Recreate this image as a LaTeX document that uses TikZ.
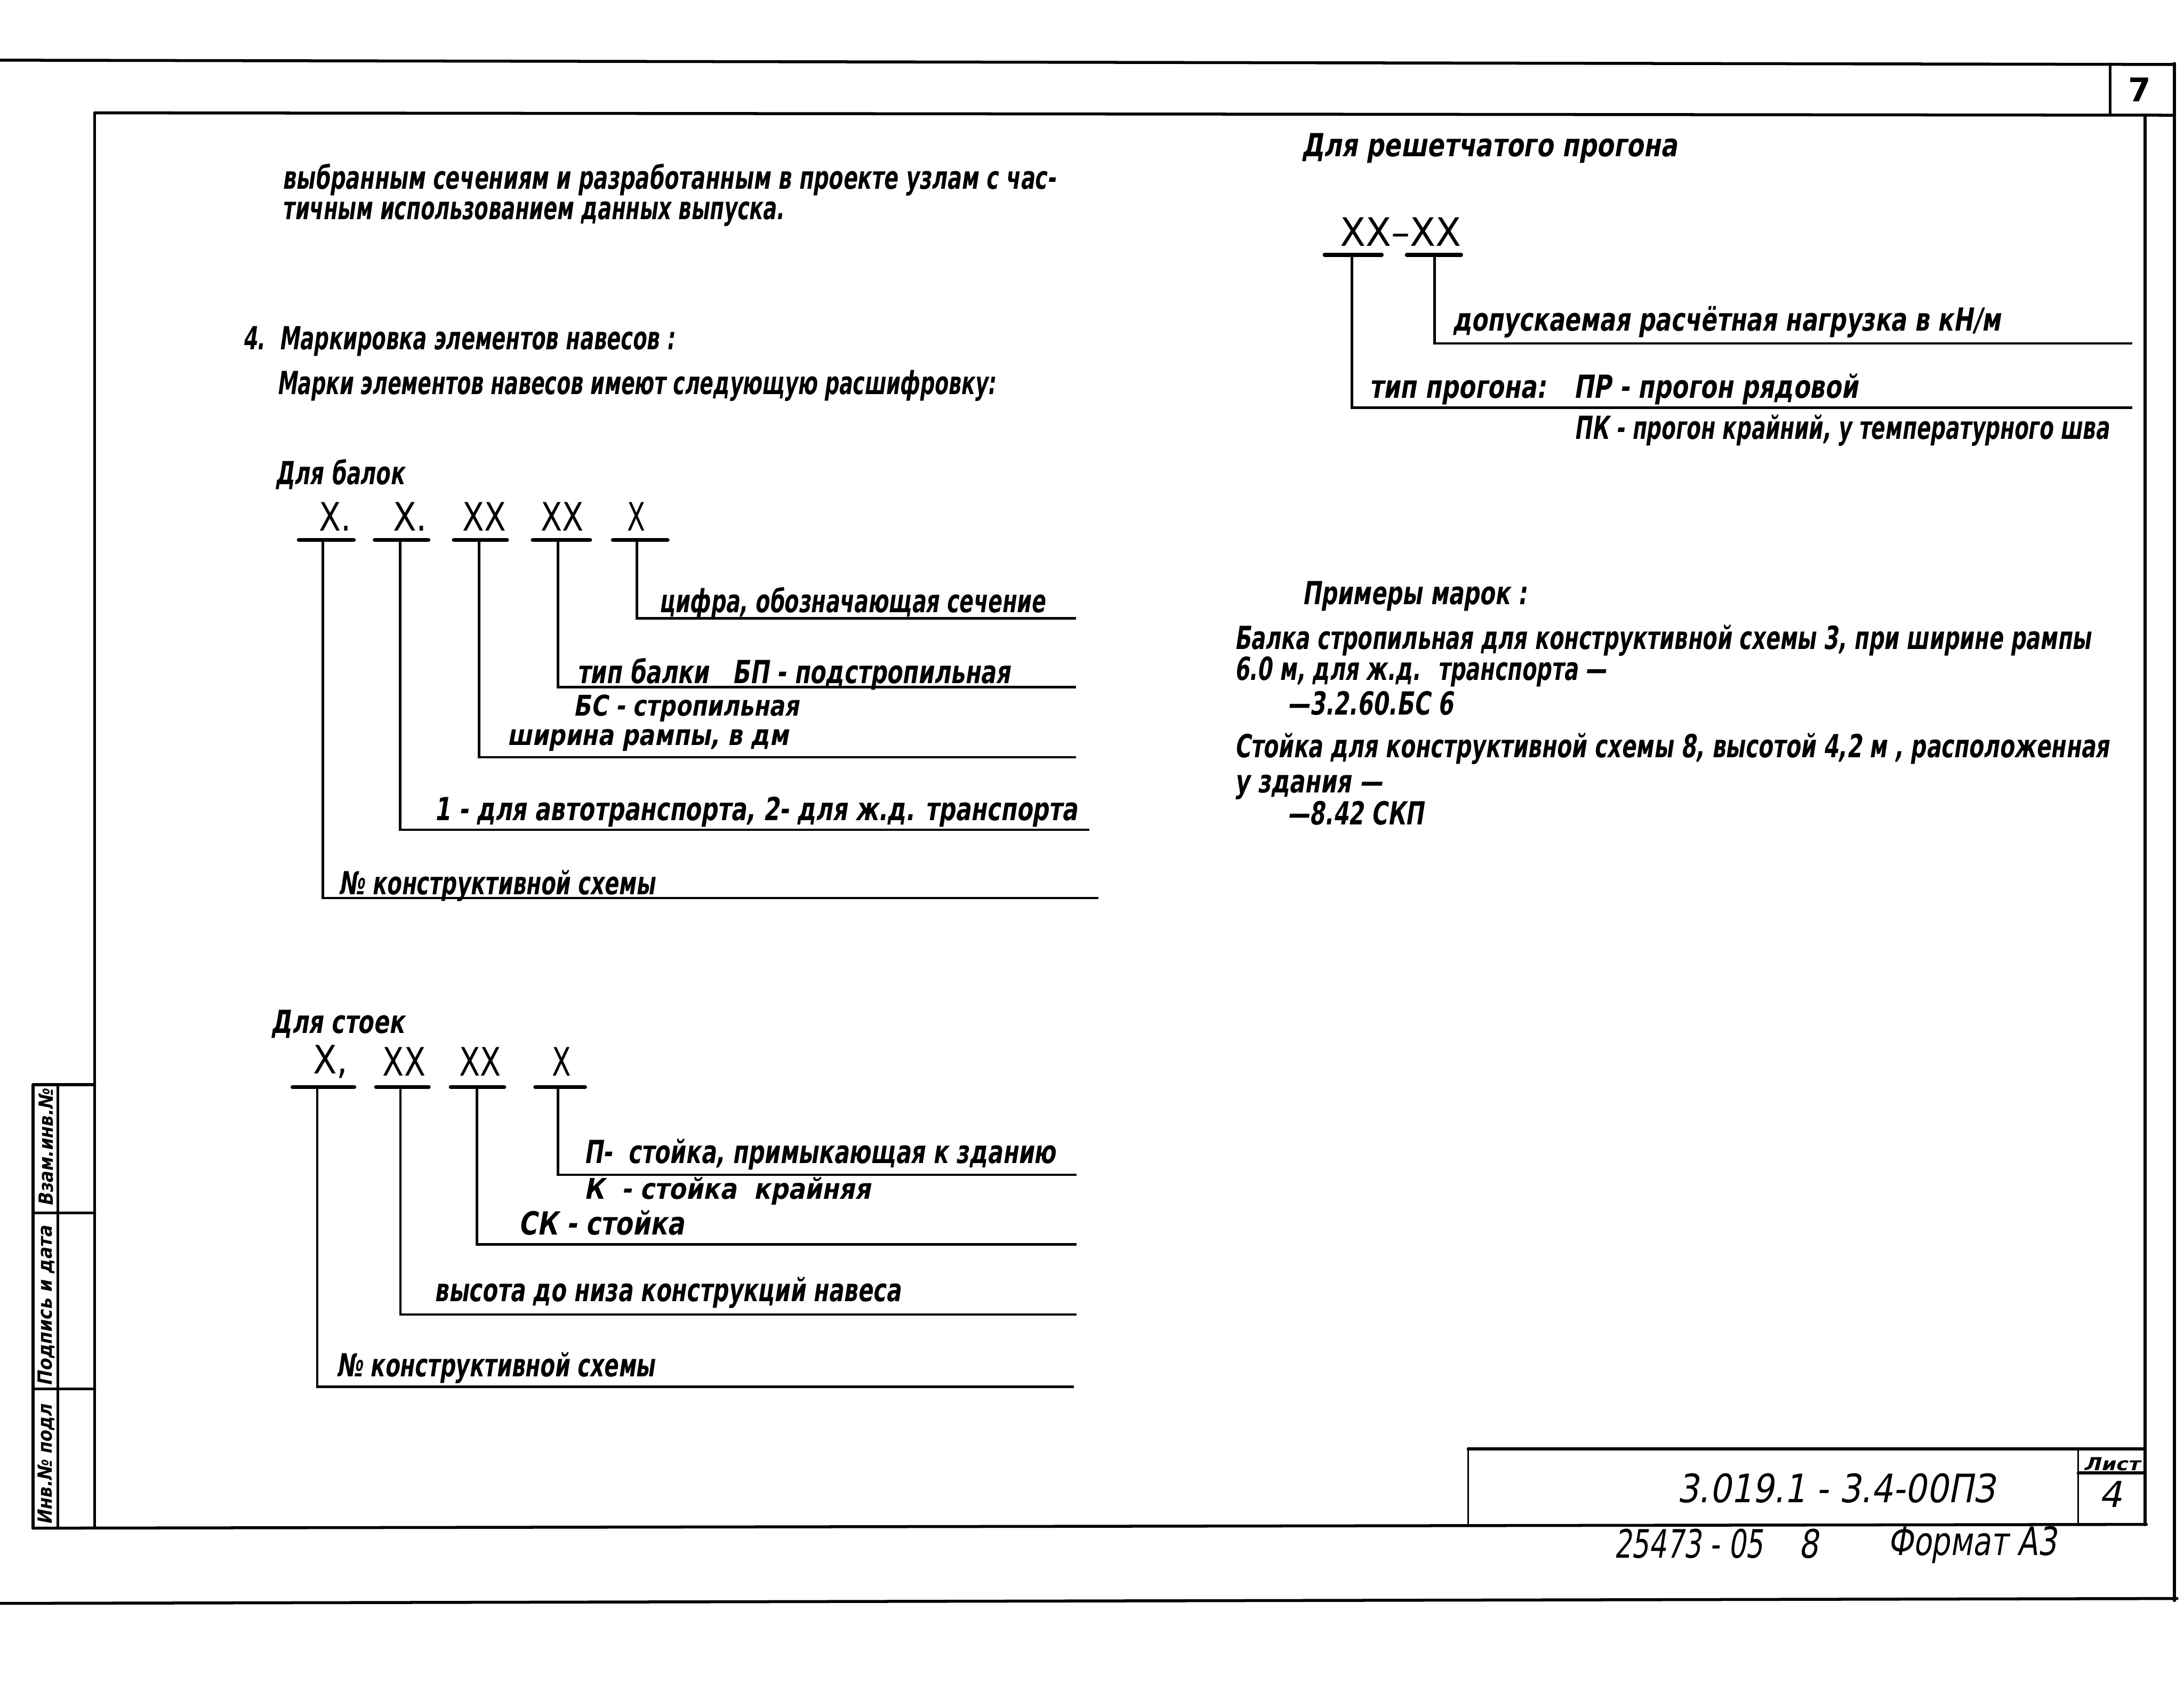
\documentclass[tikz,border=0pt]{standalone}
\usepackage{fontspec}
\usepackage{graphicx}
\newfontfamily\hand[FakeSlant=0.22]{DejaVu Sans}
\newfontfamily\upf{DejaVu Sans}
\setlength{\unitlength}{0.03cm}
\newcommand\fw[2]{\resizebox{#1\unitlength}{\height}{#2}}
\tikzset{
 frm/.style={line width=1.8pt, line cap=round},
 thn/.style={line width=1.1pt},
 lead/.style={line width=1.5pt},
 ubar/.style={line width=2.4pt, line cap=round},
 txt/.style={inner sep=0pt, anchor=west, font=\hand\bfseries\fontsize{19.5}{22}\selectfont},
 txtm/.style={inner sep=0pt, anchor=west, font=\hand\bfseries\fontsize{17.5}{20}\selectfont},
 txtL/.style={inner sep=0pt, anchor=west, font=\hand\fontsize{24}{26}\selectfont},
 txtS/.style={inner sep=0pt, anchor=center, font=\hand\bfseries\fontsize{12}{14}\selectfont},
 mk/.style={inner sep=0pt, anchor=west, font=\upf\fontsize{24}{26}\selectfont},
}
\begin{document}
\begin{tikzpicture}[x=0.03cm,y=-0.03cm]
\fill[white] (0,0) rectangle (1568,1208);
\useasboundingbox (0,0) rectangle (1568,1208);

% ---- page frame ----
\draw[frm] (0,43.2) -- (1561,46.3);
\draw[frm] (68,81) -- (1561,82.7);
\draw[frm] (1515,46) -- (1515,81.5);
\draw[frm] (1561,45.5) -- (1561,1149);
\draw[frm] (68,81) -- (68,1097);
\draw[frm] (1540,82.5) -- (1540,1094.5);
\draw[frm] (23.7,1097) -- (1541,1094.3);
\draw[frm] (0,1151) -- (1563,1147.5);
\node[inner sep=0pt, font=\upf\bfseries\fontsize{20}{22}\selectfont] (p7) at (1536,64.5) {7};

% ---- binding strip ----
\draw[frm] (23.7,778.7) -- (68,778.7);
\draw[frm] (23.7,778.7) -- (23.7,1097);
\draw[frm] (41.6,778.7) -- (41.6,1097);
\draw[frm] (23.7,870.7) -- (68,870.7);
\draw[frm] (23.7,997) -- (68,997);
\node[txtS, rotate=90] (s1) at (33,824) {\fw{84}{Взам.инв.№}};
\node[txtS, rotate=90] (s2) at (33,937.5) {\fw{115}{Подпись и дата}};
\node[txtS, rotate=90] (s3) at (33,1051.5) {\fw{86}{Инв.№ подл}};

% ---- title block ----
\draw[frm] (1054,1040) -- (1540,1040);
\draw[thn] (1054,1040) -- (1054,1095);
\draw[thn] (1492,1040) -- (1492,1095);
\draw[frm] (1492,1057.4) -- (1540,1057.4);
\node[txtL] (des) at (1204,1068.5) {\fw{228}{3.019.1 - 3.4-00ПЗ}};
\node[inner sep=0pt, font=\hand\bfseries\fontsize{11}{12}\selectfont] (lst) at (1516,1051) {\fw{40}{Лист}};
\node[inner sep=0pt, font=\hand\fontsize{22}{24}\selectfont] (lno) at (1515,1072.6) {4};
\node[txtL] (inv) at (1158.6,1108) {\fw{107}{25473 - 05}};
\node[txtL] (inv8) at (1291,1108) {\fw{14}{8}};
\node[txtL] (fmt) at (1355,1109) {\fw{121}{Формат А3}};

% ---- top paragraph ----
\node[txt] (t1) at (202.6,129) {\fw{555}{выбранным сечениям и разработанным в проекте узлам с час-}};
\node[txt] (t2) at (202.6,153.5) {\fw{360}{тичным использованием данных выпуска.}};
\node[txt] (t3) at (174,245) {\fw{310}{4.\ \ Маркировка элементов навесов :}};
\node[txt] (t4) at (198.5,277) {\fw{516}{Марки элементов навесов имеют следующую расшифровку:}};

% ---- beams ----
\node[txt] (dbal) at (197.5,340.7) {\fw{92.5}{Для балок}};
\node[mk] (bm1) at (229,370.7) {\fw{23}{X.}};
\node[mk] (bm2) at (282,370.7) {\fw{24.5}{X.}};
\node[mk] (bm3) at (331.8,370.7) {\fw{31.2}{XX}};
\node[mk] (bm4) at (388,370.7) {\fw{30.7}{XX}};
\node[mk] (bm5) at (450,370.7) {\fw{13}{X}};
\coordinate (bu1a) at (214.5,387.6); \coordinate (bu1b) at (254,387.6);
\coordinate (bu2a) at (269,387.6);   \coordinate (bu2b) at (307.6,387.6);
\coordinate (bu3a) at (325.8,387.6); \coordinate (bu3b) at (364,387.6);
\coordinate (bu4a) at (382.4,387.6); \coordinate (bu4b) at (423.7,387.6);
\coordinate (bu5a) at (440,387.6);   \coordinate (bu5b) at (479.3,387.6);
\draw[ubar] (bu1a) -- (bu1b);
\draw[ubar] (bu2a) -- (bu2b);
\draw[ubar] (bu3a) -- (bu3b);
\draw[ubar] (bu4a) -- (bu4b);
\draw[ubar] (bu5a) -- (bu5b);
\coordinate (bv1) at (231.8,387.6); \coordinate (bh1) at (788.6,644.6);
\coordinate (bv2) at (287.4,387.6); \coordinate (bh2) at (782.2,595.6);
\coordinate (bv3) at (344,387.6);   \coordinate (bh3) at (772.6,543.6);
\coordinate (bv4) at (400.6,387.6); \coordinate (bh4) at (772.6,493.2);
\coordinate (bv5) at (457.2,387.6); \coordinate (bh5) at (772.6,443.9);
\draw[lead] (bv1) |- (bh1);
\draw[lead] (bv2) |- (bh2);
\draw[lead] (bv3) |- (bh3);
\draw[lead] (bv4) |- (bh4);
\draw[lead] (bv5) |- (bh5);
\node[txt] (bl5) at (473,432.8) {\fw{277}{цифра, обозначающая сечение}};
\node[txt] (bl4) at (414,483.8) {\fw{311}{тип балки \ \ БП - подстропильная}};
\node[txtm] (bl4b) at (411.6,508.5) {\fw{162}{БС - стропильная}};
\node[txtm] (bl3) at (364,531.5) {\fw{202}{ширина рампы, в дм}};
\node[txt] (bl2) at (311.7,583) {\fw{461.7}{1 - для автотранспорта, 2- для ж.д. транспорта}};
\node[txt] (bl1) at (243,635.8) {\fw{227}{№ конструктивной схемы}};

% ---- posts ----
\node[txt] (dst) at (194.6,735) {\fw{95.4}{Для стоек}};
\node[mk] (sm1) at (224.5,762) {\fw{25}{X,}};
\node[mk] (sm2) at (274.6,762) {\fw{30.7}{XX}};
\node[mk] (sm3) at (329.5,762) {\fw{30}{XX}};
\node[mk] (sm4) at (396,762) {\fw{13.6}{X}};
\coordinate (su1a) at (210,780.4);   \coordinate (su1b) at (254.4,780.4);
\coordinate (su2a) at (270,780.4);   \coordinate (su2b) at (307.8,780.4);
\coordinate (su3a) at (323.6,780.4); \coordinate (su3b) at (362,780.4);
\coordinate (su4a) at (384.3,780.4); \coordinate (su4b) at (420,780.4);
\draw[ubar] (su1a) -- (su1b);
\draw[ubar] (su2a) -- (su2b);
\draw[ubar] (su3a) -- (su3b);
\draw[ubar] (su4a) -- (su4b);
\coordinate (sv1) at (227.7,780.4); \coordinate (sh1) at (771,995.4);
\coordinate (sv2) at (287.5,780.4); \coordinate (sh2) at (773,943.6);
\coordinate (sv3) at (342.5,780.4); \coordinate (sh3) at (773,893.3);
\coordinate (sv4) at (400.6,780.4); \coordinate (sh4) at (773,843.3);
\draw[lead] (sv1) |- (sh1);
\draw[lead] (sv2) |- (sh2);
\draw[lead] (sv3) |- (sh3);
\draw[lead] (sv4) |- (sh4);
\node[txt] (sl4) at (419,828.7) {\fw{338.6}{П- \ стойка, примыкающая к зданию}};
\node[txtm] (sl4b) at (419,855) {\fw{206}{К \ - стойка \ крайняя}};
\node[txt] (sl3) at (372,878) {\fw{119}{СК - стойка}};
\node[txt] (sl2) at (311.6,928) {\fw{334.8}{высота до низа конструкций навеса}};
\node[txt] (sl1) at (241.4,982) {\fw{228.6}{№ конструктивной схемы}};

% ---- purlin ----
\node[txt] (dpr) at (934.4,106.4) {\fw{269.6}{Для решетчатого прогона}};
\node[mk] (pm) at (962,166.4) {\fw{87}{XX–XX}};
\coordinate (pu1a) at (951,183);  \coordinate (pu1b) at (992,183);
\coordinate (pu2a) at (1010,183); \coordinate (pu2b) at (1049,183);
\draw[ubar] (pu1a) -- (pu1b);
\draw[ubar] (pu2a) -- (pu2b);
\coordinate (pv1) at (970.5,183); \coordinate (ph1) at (1531,292.6);
\coordinate (pv2) at (1030,183);  \coordinate (ph2) at (1531,246.6);
\draw[lead] (pv1) |- (ph1);
\draw[lead] (pv2) |- (ph2);
\node[txt] (pl2) at (1042.6,231.3) {\fw{393.4}{допускаемая расчётная нагрузка в кН/м}};
\node[txt] (pl1) at (983,279.6) {\fw{350.6}{тип прогона: \ \ ПР - прогон рядовой}};
\node[txt] (pl1b) at (1130,309) {\fw{384}{ПК - прогон крайний, у температурного шва}};

% ---- examples ----
\node[txt] (e0) at (934.7,428) {\fw{161.3}{Примеры марок :}};
\node[txt] (e1) at (886,459.7) {\fw{615}{Балка стропильная для конструктивной схемы 3, при ширине рампы}};
\node[txt] (e2) at (886,482) {\fw{267}{6.0 м, для ж.д. \ транспорта —}};
\node[txt] (e3) at (924,505) {\fw{119}{—3.2.60.БС 6}};
\node[txt] (e4) at (886,537.7) {\fw{628}{Стойка для конструктивной схемы 8, высотой 4,2 м , расположенная}};
\node[txt] (e5) at (886,565) {\fw{106}{у здания —}};
\node[txt] (e6) at (924,583.7) {\fw{98}{—8.42 СКП}};
\end{tikzpicture}
\end{document}
